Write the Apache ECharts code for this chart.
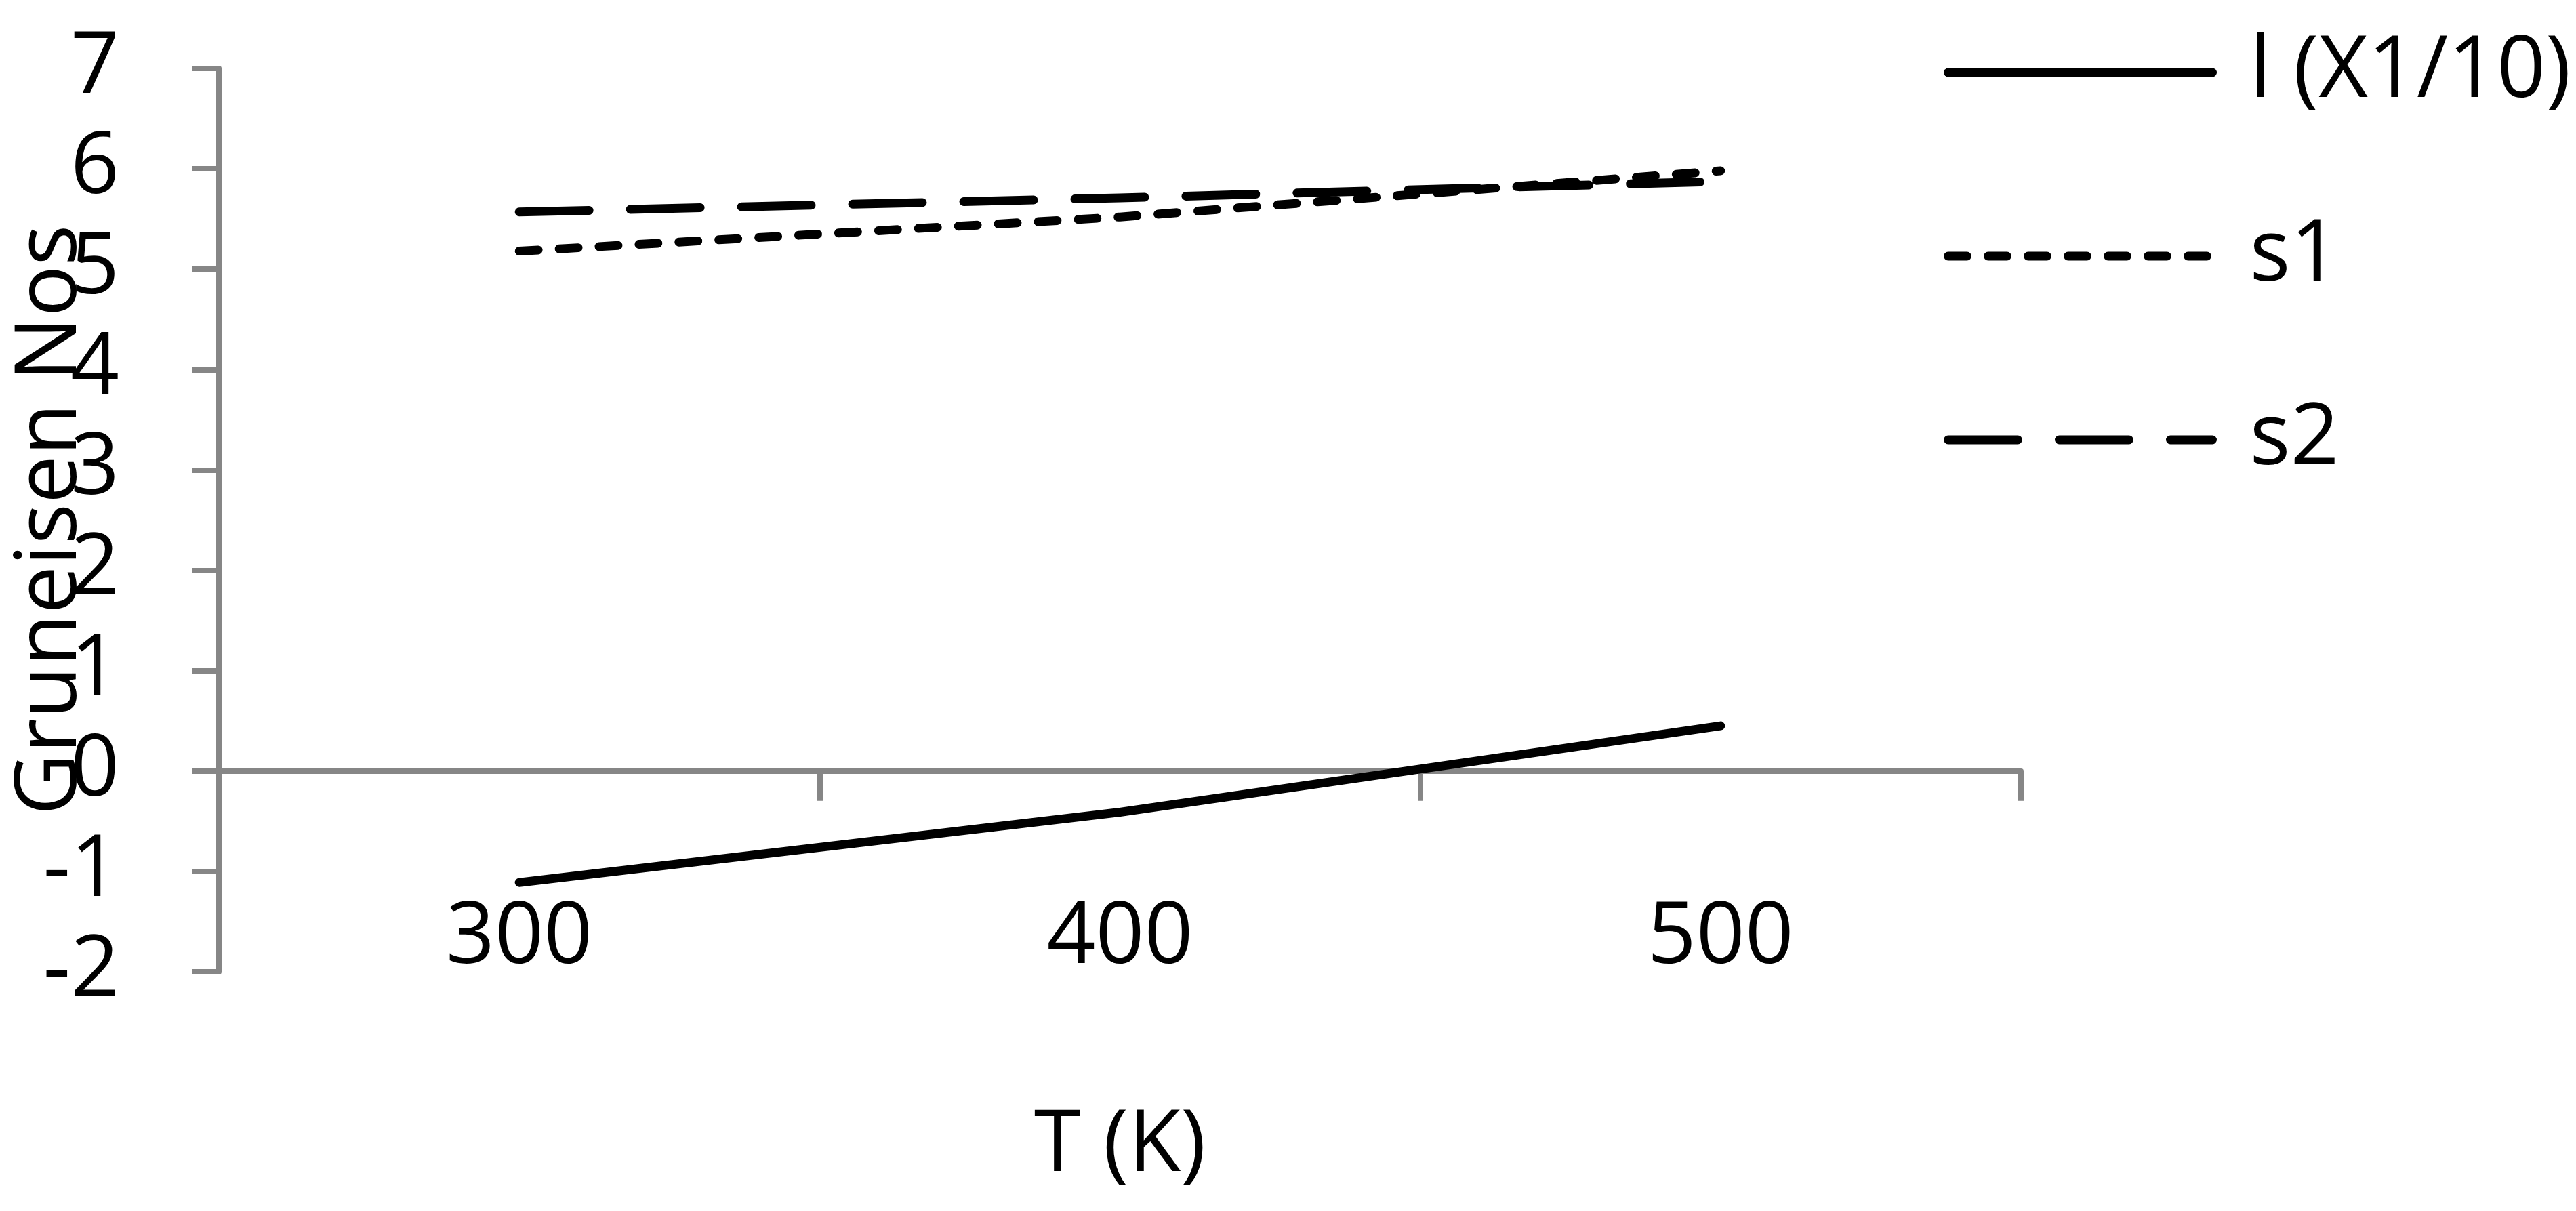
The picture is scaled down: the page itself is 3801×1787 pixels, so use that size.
<!DOCTYPE html>
<html>
<head>
<meta charset="utf-8">
<script src="https://cdn.jsdelivr.net/npm/echarts@6/dist/echarts.min.js"></script>
<style>
html,body{margin:0;padding:0;background:#fff;}
#chart{width:3801px;height:1787px;}
</style>
</head>
<body>
<div id="chart"></div>
<script>
// ---- data ----
const categories = ['300', '400', '500'];
const seriesNames = ['l (X1/10)', 's1', 's2'];
const lValues = [-1.11, -0.41, 0.45];
const s1Values = [5.18, 5.52, 5.98];
const s2Values = [5.57, 5.71, 5.875];
const yMin = -2, yMax = 7, yInterval = 1;
const xTitle = 'T (K)';
const yTitle = 'Gruneisen Nos';

const FONT = "'Open Sans', 'Noto Sans', sans-serif";
const FS = 126;
const AXIS_GRAY = '#868686';

const chart = echarts.init(document.getElementById('chart'), null, {renderer: 'canvas'});

const lineBase = {
  type: 'line',
  symbol: 'none',
  xAxisIndex: 0,
  yAxisIndex: 0,
  silent: true,
  animation: false
};

chart.setOption({
  backgroundColor: '#ffffff',
  animation: false,
  textStyle: {fontFamily: FONT},
  grid: {left: 323, right: 819, top: 101, bottom: 353, containLabel: false, outerBoundsMode: 'none'},
  legend: {
    orient: 'vertical',
    left: 2863,
    top: 39,
    itemWidth: 390,
    itemHeight: 13,
    itemGap: 145,
    selectedMode: false,
    itemStyle: {opacity: 0},
    lineStyle: {width: 13},
    textStyle: {fontFamily: FONT, fontSize: FS, color: '#000', padding: [0, 0, 0, 50]},
    data: seriesNames
  },
  xAxis: [
    {
      type: 'category',
      data: categories,
      position: 'bottom',
      boundaryGap: true,
      axisLine: {show: true, onZero: true, lineStyle: {color: AXIS_GRAY, width: 8}},
      axisTick: {show: true, length: 44, inside: false, alignWithLabel: false, lineStyle: {color: AXIS_GRAY, width: 8}},
      axisLabel: {show: false},
      splitLine: {show: false}
    },
    {
      type: 'category',
      data: categories,
      position: 'bottom',
      offset: -112,
      boundaryGap: true,
      axisLine: {show: false, onZero: false},
      axisTick: {show: false},
      axisLabel: {show: true, margin: 0, fontFamily: FONT, fontSize: FS, color: '#000'},
      splitLine: {show: false},
      name: xTitle,
      nameLocation: 'middle',
      nameGap: 307,
      nameMoveOverlap: false,
      nameTextStyle: {fontFamily: FONT, fontSize: FS, color: '#000'}
    }
  ],
  yAxis: [{
    type: 'value',
    min: yMin,
    max: yMax,
    interval: yInterval,
    axisLine: {show: true, onZero: false, lineStyle: {color: AXIS_GRAY, width: 8}},
    axisTick: {show: true, length: 40, inside: false, lineStyle: {color: AXIS_GRAY, width: 8}},
    axisLabel: {show: true, margin: 147, fontFamily: FONT, fontSize: FS, color: '#000'},
    splitLine: {show: false},
    name: yTitle,
    nameLocation: 'middle',
    nameGap: 184,
    nameRotate: 90,
    nameMoveOverlap: false,
    nameTextStyle: {fontFamily: FONT, fontSize: FS, color: '#000'}
  }],
  series: [
    Object.assign({}, lineBase, {
      name: seriesNames[0],
      data: lValues,
      lineStyle: {color: '#000', width: 13, type: 'solid', cap: 'round', join: 'round'}
    }),
    Object.assign({}, lineBase, {
      name: seriesNames[1],
      data: s1Values,
      lineStyle: {color: '#000', width: 13, type: [28, 31], cap: 'round', join: 'round'}
    }),
    Object.assign({}, lineBase, {
      name: seriesNames[2],
      data: s2Values,
      lineStyle: {color: '#000', width: 13, type: [103, 61], cap: 'round', join: 'round'}
    })
  ]
});
</script>
</body>
</html>
